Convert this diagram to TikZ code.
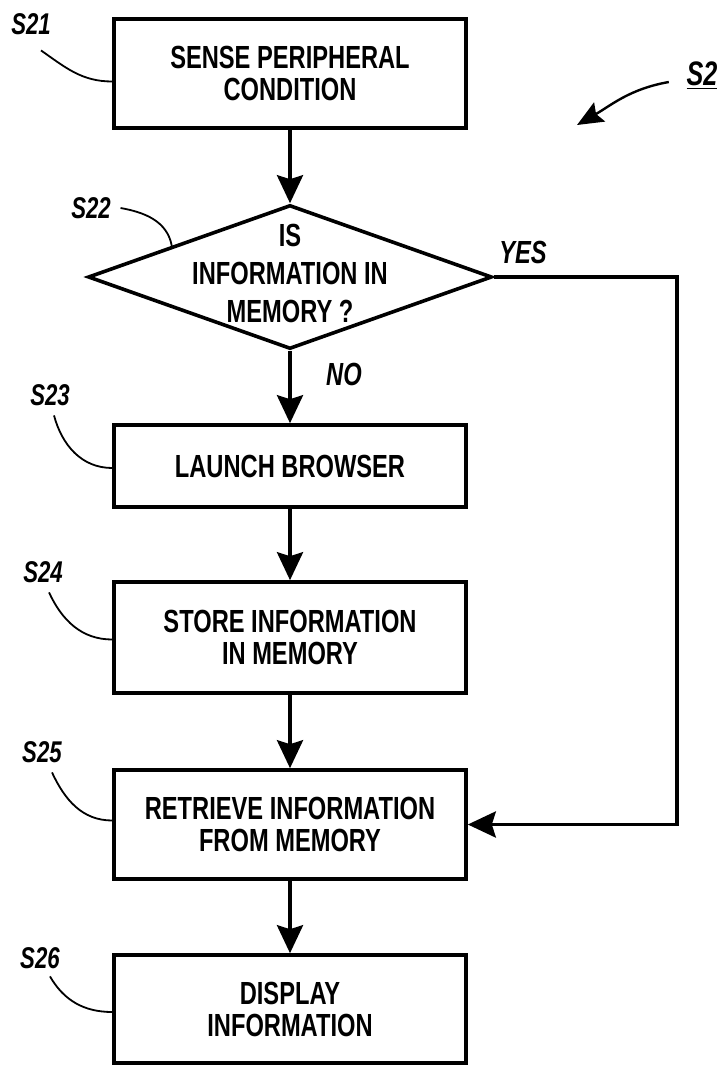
\documentclass[tikz,border=0pt]{standalone}
\usepackage{fontspec}
\setmainfont[FakeStretch=0.74]{Liberation Sans}
\usetikzlibrary{arrows.meta,calc,shapes.geometric}
\begin{document}
\begin{tikzpicture}[x=0.5pt,y=0.5pt,line width=1.8pt,
box/.style={draw,minimum width=176pt,inner sep=0pt,align=center,font=\fontsize{16}{16}\selectfont\bfseries},
flow/.style={-{Stealth[length=14pt,width=13pt,inset=2pt]}},
leader/.style={line width=0.9pt},
tag/.style={font=\fontsize{15}{15}\selectfont\bfseries\itshape,inner sep=0pt},
answer/.style={font=\fontsize{16}{16}\selectfont\bfseries\itshape,inner sep=0pt}]
\useasboundingbox (0,0) rectangle (719,-1066);
% steps
\node[box,minimum height=54.5pt] (s21) at (290,-73.5) {SENSE PERIPHERAL\\CONDITION};
\node[draw,diamond,minimum width=202pt,minimum height=72pt,inner sep=0pt] (d22) at (290,-277) {};
\node[align=center,font=\fontsize{16}{19}\selectfont\bfseries,inner sep=0pt] (t22) at (290,-273) {IS\\INFORMATION IN\\MEMORY ?};
\node[box,minimum height=41pt] (s23) at (290,-466) {LAUNCH BROWSER};
\node[box,minimum height=55.5pt] (s24) at (290,-637.5) {STORE INFORMATION\\IN MEMORY};
\node[box,minimum height=54.5pt] (s25) at (290,-824.5) {RETRIEVE INFORMATION\\FROM MEMORY};
\node[box,minimum height=54pt] (s26) at (290,-1009) {DISPLAY\\INFORMATION};
% tags
\node[tag] (l21) at (31,-24) {S21};
\node[tag] (l22) at (91,-208) {S22};
\node[tag] (l23) at (50,-395) {S23};
\node[tag] (l24) at (43,-572) {S24};
\node[tag] (l25) at (42,-752) {S25};
\node[tag] (l26) at (40,-958) {S26};
\node[font=\fontsize{17}{17}\selectfont\bfseries\itshape,inner sep=0pt] (s2) at (702,-76) {\underline{S2}};
\node[answer] (yes) at (523,-252) {YES};
\node[answer] (no) at (344,-374) {NO};
% flow
\draw[flow] (s21) -- (d22);
\draw[flow] (d22) -- (s23);
\draw[flow] (s23) -- (s24);
\draw[flow] (s24) -- (s25);
\draw[flow] (s25) -- (s26);
\draw[flow] (d22.east) -- ++(183,0) |- (s25.east);
% leaders
\draw[leader] ([xshift=5pt,yshift=-7pt]l21.south) to[out=-35,in=180] ([yshift=-4pt]s21.west);
\draw[leader] ([xshift=4pt]l22.east) to[out=-10,in=100] ($(d22.west)!0.42!(d22.north)$);
\draw[leader] ([xshift=2pt,yshift=-4pt]l23.south) to[out=-75,in=180] ([yshift=-1pt]s23.west);
\draw[leader] ([xshift=3pt,yshift=-4pt]l24.south) to[out=-65,in=180] ([yshift=-1pt]s24.west);
\draw[leader] ([xshift=5pt,yshift=-4pt]l25.south) to[out=-65,in=180] ([yshift=2pt]s25.west);
\draw[leader] ([xshift=5pt,yshift=-3pt]l26.south) to[out=-60,in=180] ([yshift=-1.5pt]s26.west);
\draw[leader,line width=1.2pt,-{Stealth[length=13pt,width=11pt,inset=2pt]}] ([xshift=-8pt,yshift=-3pt]s2.west) to[out=190,in=30] (577,-125);
\end{tikzpicture}
\end{document}
